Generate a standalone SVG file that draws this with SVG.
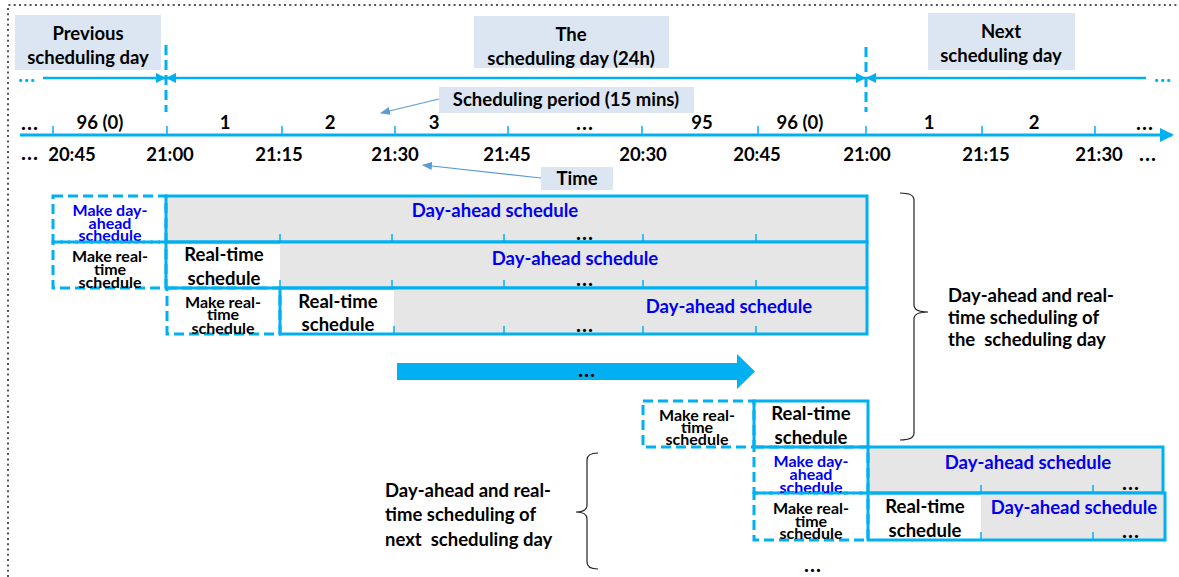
<svg xmlns="http://www.w3.org/2000/svg" width="1179" height="577" viewBox="0 0 1179 577">
<style>
.t{font-family:Lato,"Liberation Sans",sans-serif;font-weight:bold;fill:#000;}
.m{text-anchor:middle;}
.big{font-size:18.5px;}
.sm{font-size:16px;}
.dots{font-size:21px;letter-spacing:1px;}
.blue{fill:#0000F0;}
.cy{fill:#00B0F0;}
.hdr{fill:#DCE6F2;}
.grey{fill:#E7E6E6;}
.solid{fill:none;stroke:#00B0F0;stroke-width:3;}
.dash{fill:none;stroke:#00B0F0;stroke-width:3;stroke-dasharray:10 5;}
.tick{stroke:#00B0F0;stroke-width:1.5;}
.thin{stroke:#5B9BD5;stroke-width:1.2;fill:none;}
.brace{stroke:#222;stroke-width:1.2;fill:none;}
</style>
<defs>
<marker id="ah" viewBox="0 0 10 10" refX="10" refY="5" markerWidth="10" markerHeight="10" markerUnits="userSpaceOnUse" orient="auto-start-reverse">
<path d="M0,0 L10,5 L0,10 z" fill="#00B0F0"/>
</marker>
<marker id="axh" viewBox="0 0 14 14" refX="12" refY="7" markerWidth="14" markerHeight="14" markerUnits="userSpaceOnUse" orient="auto">
<path d="M0,0 L14,7 L0,14 z" fill="#00B0F0"/>
</marker>
<marker id="th" viewBox="0 0 10 8" refX="9" refY="4" markerWidth="10" markerHeight="8" markerUnits="userSpaceOnUse" orient="auto">
<path d="M0,0 L10,4 L0,8 z" fill="#5B9BD5"/>
</marker>
</defs>

<path d="M8,577 V5 H1179" fill="none" stroke="#555" stroke-width="2" stroke-dasharray="2 3.3"/>

<g id="header-previous">
<rect class="hdr" x="15" y="15" width="146" height="55"/>
<text class="t big m" x="88" y="40">Previous</text>
<text class="t big m" x="88" y="64">scheduling day</text>
</g>
<g id="header-the">
<rect class="hdr" x="474" y="16" width="195" height="52"/>
<text class="t big m" x="571" y="41">The</text>
<text class="t big m" x="571" y="65">scheduling day (24h)</text>
</g>
<g id="header-next">
<rect class="hdr" x="928" y="13" width="147" height="57"/>
<text class="t big m" x="1001" y="38">Next</text>
<text class="t big m" x="1001" y="62">scheduling day</text>
</g>

<g id="range-lines">
<text class="t dots m cy" x="27" y="82">...</text>
<line class="solid" x1="43" y1="78" x2="166" y2="78" marker-end="url(#ah)" style="stroke-width:2.5"/>
<line class="solid" x1="166" y1="78" x2="866" y2="78" marker-start="url(#ah)" marker-end="url(#ah)" style="stroke-width:2.5"/>
<line class="solid" x1="1146" y1="78" x2="866" y2="78" marker-end="url(#ah)" style="stroke-width:2.5"/>
<text class="t dots m cy" x="1163" y="82">...</text>
<line class="dash" x1="166" y1="45" x2="166" y2="112"/>
<line class="dash" x1="866" y1="47" x2="866" y2="112"/>
</g>

<g id="axis">
<line class="solid" x1="20" y1="135" x2="1172" y2="135" marker-end="url(#axh)"/>
<g class="tick">
<line x1="53" y1="126" x2="53" y2="135"/>
<line x1="167" y1="126" x2="167" y2="135"/>
<line x1="282" y1="126" x2="282" y2="135"/>
<line x1="395" y1="126" x2="395" y2="135"/>
<line x1="508" y1="126" x2="508" y2="135"/>
<line x1="642" y1="126" x2="642" y2="135"/>
<line x1="758" y1="126" x2="758" y2="135"/>
<line x1="866" y1="126" x2="866" y2="135"/>
<line x1="982" y1="126" x2="982" y2="135"/>
<line x1="1095" y1="126" x2="1095" y2="135"/>
</g>
<text class="t dots m" x="30" y="130">...</text>
<text class="t big m" x="100" y="129">96 (0)</text>
<text class="t big m" x="225" y="129">1</text>
<text class="t big m" x="330" y="129">2</text>
<text class="t big m" x="434" y="129">3</text>
<text class="t dots m" x="585" y="130">...</text>
<text class="t big m" x="702" y="129">95</text>
<text class="t big m" x="800" y="129">96 (0)</text>
<text class="t big m" x="929" y="129">1</text>
<text class="t big m" x="1034" y="129">2</text>
<text class="t dots m" x="1145" y="130">...</text>
<text class="t dots m" x="30" y="160">...</text>
<text class="t big m" x="72" y="161">20:45</text>
<text class="t big m" x="170" y="161">21:00</text>
<text class="t big m" x="279" y="161">21:15</text>
<text class="t big m" x="395" y="161">21:30</text>
<text class="t big m" x="507" y="161">21:45</text>
<text class="t big m" x="643" y="161">20:30</text>
<text class="t big m" x="757" y="161">20:45</text>
<text class="t big m" x="867" y="161">21:00</text>
<text class="t big m" x="986" y="161">21:15</text>
<text class="t big m" x="1099" y="161">21:30</text>
<text class="t dots m" x="1148" y="161">...</text>
</g>

<g id="label-period">
<rect class="hdr" x="439" y="87" width="255" height="26"/>
<text class="t big m" x="566" y="106">Scheduling period (15 mins)</text>
</g>
<g id="label-time">
<rect class="hdr" x="541" y="167" width="72" height="23"/>
<text class="t big m" x="577" y="185">Time</text>
</g>

<g id="row1">
<rect class="grey" x="166" y="196" width="701" height="46"/>
<g class="tick">
<line x1="280" y1="234" x2="280" y2="242"/><line x1="392" y1="234" x2="392" y2="242"/><line x1="504" y1="234" x2="504" y2="242"/><line x1="643" y1="234" x2="643" y2="242"/><line x1="756" y1="234" x2="756" y2="242"/>
</g>
<rect class="solid" x="166" y="196" width="701" height="46"/>
<rect class="dash" x="53" y="196" width="113" height="46"/>
<text class="t sm m blue" x="110" y="216">Make day-</text>
<text class="t sm m blue" x="110" y="229">ahead</text>
<text class="t sm m blue" x="110" y="241">schedule</text>
<text class="t big m blue" x="495" y="217">Day-ahead schedule</text>
<text class="t dots m" x="585" y="240">...</text>
</g>

<g id="row2">
<rect class="grey" x="280" y="242" width="587" height="46"/>
<g class="tick">
<line x1="280" y1="280" x2="280" y2="288"/><line x1="392" y1="280" x2="392" y2="288"/><line x1="504" y1="280" x2="504" y2="288"/><line x1="643" y1="280" x2="643" y2="288"/><line x1="756" y1="280" x2="756" y2="288"/>
</g>
<rect class="solid" x="166" y="242" width="701" height="46"/>
<rect class="dash" x="53" y="242" width="113" height="46"/>
<text class="t sm m" x="110" y="262">Make real-</text>
<text class="t sm m" x="110" y="275">time</text>
<text class="t sm m" x="110" y="288">schedule</text>
<text class="t big m" x="224" y="261">Real-time</text>
<text class="t big m" x="224" y="285">schedule</text>
<text class="t big m blue" x="575" y="265">Day-ahead schedule</text>
<text class="t dots m" x="585" y="286">...</text>
</g>

<g id="row3">
<rect class="grey" x="394" y="288" width="473" height="46"/>
<g class="tick">
<line x1="394" y1="326" x2="394" y2="334"/><line x1="504" y1="326" x2="504" y2="334"/><line x1="643" y1="326" x2="643" y2="334"/><line x1="756" y1="326" x2="756" y2="334"/>
</g>
<rect class="solid" x="280" y="288" width="587" height="46"/>
<rect class="dash" x="167" y="288" width="113" height="46"/>
<text class="t sm m" x="223" y="308">Make real-</text>
<text class="t sm m" x="223" y="320">time</text>
<text class="t sm m" x="223" y="334">schedule</text>
<text class="t big m" x="338" y="308">Real-time</text>
<text class="t big m" x="338" y="331">schedule</text>
<text class="t big m blue" x="729" y="313">Day-ahead schedule</text>
<text class="t dots m" x="585" y="332">...</text>
</g>

<g id="progress-arrow">
<polygon points="397,363 737,363 737,354 755,371.5 737,389 737,380 397,380" fill="#00B0F0"/>
<text class="t dots m" x="587" y="377">...</text>
</g>

<g id="row4">
<rect class="dash" x="643" y="401" width="111" height="46"/>
<rect class="solid" x="754" y="401" width="114" height="46"/>
<text class="t sm m" x="697" y="421">Make real-</text>
<text class="t sm m" x="697" y="433">time</text>
<text class="t sm m" x="697" y="445">schedule</text>
<text class="t big m" x="811" y="420">Real-time</text>
<text class="t big m" x="811" y="444">schedule</text>
</g>

<g id="row5">
<rect class="grey" x="868" y="447" width="295" height="46"/>
<g class="tick">
<line x1="981" y1="485" x2="981" y2="493"/><line x1="1093" y1="485" x2="1093" y2="493"/>
</g>
<rect class="solid" x="868" y="447" width="295" height="46"/>
<rect class="dash" x="754" y="447" width="114" height="46"/>
<text class="t sm m blue" x="811" y="467">Make day-</text>
<text class="t sm m blue" x="811" y="480">ahead</text>
<text class="t sm m blue" x="811" y="493">schedule</text>
<text class="t big m blue" x="1028" y="469">Day-ahead schedule</text>
<text class="t dots m" x="1131" y="490">...</text>
</g>

<g id="row6">
<rect class="grey" x="981" y="493" width="184" height="47"/>
<g class="tick">
<line x1="981" y1="532" x2="981" y2="540"/><line x1="1093" y1="532" x2="1093" y2="540"/>
</g>
<rect class="solid" x="868" y="493" width="297" height="47"/>
<rect class="dash" x="754" y="493" width="114" height="47"/>
<text class="t sm m" x="811" y="514">Make real-</text>
<text class="t sm m" x="811" y="527">time</text>
<text class="t sm m" x="811" y="539">schedule</text>
<text class="t big m" x="925" y="513">Real-time</text>
<text class="t big m" x="925" y="537">schedule</text>
<text class="t big m blue" x="1074" y="514">Day-ahead schedule</text>
<text class="t dots m" x="1131" y="538">...</text>
</g>

<text class="t dots m" x="813" y="572">...</text>

<g id="brace-today">
<path class="brace" d="M900,193 Q914,193 914,200 L914,305 Q914,312 928,312 Q914,312 914,319 L914,433 Q914,440 900,440"/>
<text class="t big" x="948" y="302">Day-ahead and real-</text>
<text class="t big" x="948" y="324">time scheduling of</text>
<text class="t big" x="948" y="346" style="white-space:pre">the  scheduling day</text>
</g>

<g id="brace-next">
<path class="brace" d="M598,453 Q587,453 587,460 L587,505 Q587,512 576,512 Q587,512 587,519 L587,562 Q587,569 598,569"/>
<text class="t big" x="385" y="497">Day-ahead and real-</text>
<text class="t big" x="385" y="521">time scheduling of</text>
<text class="t big" x="385" y="546" style="white-space:pre">next  scheduling day</text>
</g>

<g id="connectors">
<line class="thin" x1="439" y1="99" x2="381" y2="113" marker-end="url(#th)"/>
<line class="thin" x1="541" y1="178" x2="423" y2="165" marker-end="url(#th)"/>
</g>
</svg>
